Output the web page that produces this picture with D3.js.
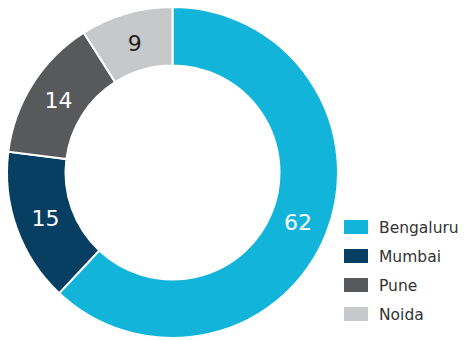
<!DOCTYPE html>
<html>
<head>
<meta charset="utf-8">
<script src="https://cdn.jsdelivr.net/npm/d3@7"></script>
<style>
  html, body { margin: 0; padding: 0; background: #fff; }
  svg { display: block; }
</style>
</head>
<body>
<svg id="chart" width="468" height="340"></svg>
<script>
// City shares (percent)
const cities = ["Bengaluru", "Mumbai", "Pune", "Noida"];
const shares = [62, 15, 14, 9];
const colors = ["#12B5D9", "#073F63", "#58595B", "#C7C8CA"];
const labelColors = ["#ffffff", "#ffffff", "#ffffff", "#231F20"];

const svg = d3.select("#chart");
const cx = 172.5, cy = 172.5;
const outerR = 165.5, innerR = 107;

const data = cities.map((c, i) => ({ city: c, value: shares[i], color: colors[i], label: labelColors[i] }));

const pie = d3.pie().value(d => d.value).sort(null);
const arc = d3.arc().innerRadius(innerR).outerRadius(outerR);
const labelArc = d3.arc().innerRadius(135).outerRadius(135);

const g = svg.append("g").attr("transform", `translate(${cx},${cy})`);
const arcs = pie(data);

g.selectAll("path.slice")
  .data(arcs)
  .join("path")
  .attr("class", "slice")
  .attr("d", arc)
  .attr("fill", d => d.data.color)
  .attr("stroke", "#fff")
  .attr("stroke-width", 2);

g.selectAll("text.val")
  .data(arcs)
  .join("text")
  .attr("class", "val")
  .attr("transform", d => `translate(${labelArc.centroid(d)})`)
  .attr("text-anchor", "middle")
  .attr("dy", "0.36em")
  .attr("font-family", "'DejaVu Sans', sans-serif")
  .attr("font-size", 22)
  .attr("fill", d => d.data.label)
  .text(d => d.data.value);

// Legend
const legend = svg.append("g").attr("transform", "translate(344,227)");
const rows = legend.selectAll("g")
  .data(data)
  .join("g")
  .attr("transform", (d, i) => `translate(0,${i * 29})`);

rows.append("rect")
  .attr("x", 0).attr("y", -7)
  .attr("width", 24).attr("height", 14)
  .attr("fill", d => d.color);

rows.append("text")
  .attr("x", 35).attr("y", 0)
  .attr("dy", "0.36em")
  .attr("font-family", "'DejaVu Sans', sans-serif")
  .attr("font-size", 15.5)
  .attr("fill", "#333")
  .text(d => d.city);
</script>
</body>
</html>
